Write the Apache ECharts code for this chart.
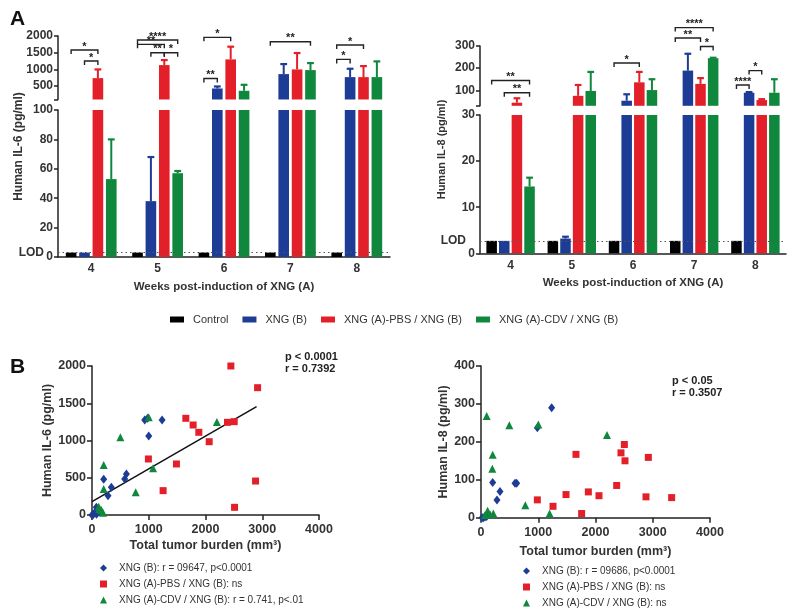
<!DOCTYPE html>
<html><head><meta charset="utf-8">
<script src="https://cdn.jsdelivr.net/npm/echarts@6/dist/echarts.min.js"></script>
<style>html,body{margin:0;padding:0;background:#fff}#c{width:800px;height:615px}</style>
</head><body><div id="c"></div>
<script>
// ---------- Panel A data ----------
const weeks = ['4', '5', '6', '7', '8'];
const groupNames = ['Control', 'XNG (B)', 'XNG (A)-PBS / XNG (B)', 'XNG (A)-CDV / XNG (B)'];

// IL-6 means and upper error (mean + SEM)
const il6Control = [3, 3, 3, 3, 3];
const il6XngB = [3, 38, 430, 860, 770];
const il6Pbs = [740, 1130, 1300, 1000, 770];
const il6Cdv = [53, 57, 360, 980, 770];
const il6ControlUp = [null, null, null, null, null];
const il6XngBUp = [null, 68, 490, 1160, 1020];
const il6PbsUp = [1000, 1280, 1680, 1490, 1100];
const il6CdvUp = [80, 58.5, 540, 1190, 1240];
const il6LOD = 3;

// IL-8 means and upper error
const il8Control = [2.7, 2.7, 2.7, 2.7, 2.7];
const il8XngB = [2.7, 3.2, 53, 189, 89];
const il8Pbs = [44, 75, 136, 129, 56];
const il8Cdv = [14.5, 97, 101, 245, 89];
const il8ControlUp = [null, null, null, null, null];
const il8XngBUp = [null, 3.6, 82, 265, 92];
const il8PbsUp = [64, 124, 183, 155, 60];
const il8CdvUp = [16.4, 183, 150, 247, 150];
const il8LOD = 2.7;

// significance brackets: [week index, from group, to group, height]
const il6Brackets = [[0,0,2,1580],[0,1,2,1250],[1,0,3,1880],[1,0,2,1750],[1,1,2,1500],[1,2,3,1500],[2,0,2,1960],[2,0,1,730],[3,0,3,1830],[4,0,2,1730],[4,0,1,1300]];
const il6BracketLabels = ['*','*','****','**','**','*','*','**','**','*','*'];
const il8Brackets = [[0,0,3,144],[0,1,3,89],[2,0,2,223],[3,0,3,383],[3,0,2,336],[3,2,3,298],[4,0,1,124],[4,1,2,189]];
const il8BracketLabels = ['**','**','*','****','**','*','****','*'];

// ---------- Panel B data ----------
const il6BlueX = [929, 1235, 1000, 980, 606, 576, 206, 341, 282, 76, 45, 80, 20, 0];
const il6BlueY = [1275, 1275, 1060, 1300, 550, 483, 479, 371, 259, 103, 30, 10, 5, 0];
const il6RedX = [2447, 2918, 1653, 1782, 1882, 2065, 2388, 2506, 994, 1488, 1253, 2882, 2512];
const il6RedY = [2000, 1709, 1298, 1208, 1110, 984, 1244, 1253, 752, 685, 327, 456, 103];
const il6GreenX = [500, 1000, 2200, 206, 1076, 770, 206, 118, 165, 194, 130];
const il6GreenY = [1043, 1311, 1248, 671, 626, 304, 349, 112, 67, 31, 80];
const il6FitX = [0, 2900];
const il6FitY = [179, 1455];

const il8BlueX = [1234, 984, 204, 594, 623, 332, 279, 40, 70, 100, 20];
const il8BlueY = [290, 237, 93, 91, 91, 69, 47, 0, 2, 3, 0];
const il8RedX = [2504, 2445, 2515, 2923, 1659, 2370, 1875, 2061, 1485, 984, 1258, 1758, 2882, 3330];
const il8RedY = [193, 171, 150, 159, 167, 85, 68, 58, 61, 47, 30, 11, 55, 53];
const il8GreenX = [99, 495, 1001, 2201, 204, 198, 774, 1199, 116, 215, 157, 70];
const il8GreenY = [268, 244, 246, 218, 166, 129, 33, 11, 18, 11, 9, 7];

const il6LegendNames = ['XNG (B): r = 09647, p<0.0001', 'XNG (A)-PBS / XNG (B): ns', 'XNG (A)-CDV / XNG (B): r = 0.741, p<.01'];
const il8LegendNames = ['XNG (B): r = 09686, p<0.0001', 'XNG (A)-PBS / XNG (B): ns', 'XNG (A)-CDV / XNG (B): ns'];

// ---------- styles ----------
const FONT = "'Liberation Sans', Arial, Helvetica, sans-serif";
const COLORS = ['#000000', '#1d3c96', '#e3202a', '#0f873c'];
const AX = '#222';
const TXT = '#333';
const plain = v => String(v);

const chart = echarts.init(document.getElementById('c'), null, {renderer: 'canvas'});

function zip(a, b) { return a.map((v, i) => [v, b[i]]); }

function catAxis(grid, shown, name) {
  return {
    type: 'category', gridIndex: grid, data: weeks, show: shown,
    axisLine: {lineStyle: {color: AX, width: 1.5}},
    axisTick: {alignWithLabel: true, length: 4, lineStyle: {color: AX, width: 1.5}},
    axisLabel: {color: TXT, fontWeight: 'bold', fontSize: 12, fontFamily: FONT, margin: 6},
    name: name || '', nameLocation: 'middle', nameGap: 24,
    nameTextStyle: {color: TXT, fontWeight: 'bold', fontSize: 11.5, fontFamily: FONT}
  };
}
function lbl(extra) {
  return Object.assign({color: TXT, fontWeight: 'bold', fontSize: 12, fontFamily: FONT, margin: 5, formatter: plain}, extra || {});
}
function valAxis(grid, min, max, extra) {
  return Object.assign({
    type: 'value', gridIndex: grid, min: min, max: max,
    splitLine: {show: false},
    axisLine: {show: true, lineStyle: {color: AX, width: 1.5}},
    axisTick: {show: true, length: 4, lineStyle: {color: AX, width: 1.5}},
    axisLabel: lbl()
  }, extra || {});
}
function nameAxis(grid, name, size) {
  return {
    type: 'value', gridIndex: grid, min: 0, max: 1,
    axisLine: {show: false}, axisTick: {show: false}, axisLabel: {show: false}, splitLine: {show: false},
    name: name, nameLocation: 'middle', nameGap: 33,
    nameTextStyle: {color: TXT, fontWeight: 'bold', fontSize: size, fontFamily: FONT}
  };
}

const grids = [
  {left: 58, top: 36, width: 332, height: 63.5},     // 0 IL-6 upper
  {left: 58, top: 110, width: 332, height: 147},     // 1 IL-6 lower
  {left: 58, top: 36, width: 332, height: 221},      // 2 IL-6 name holder
  {left: 480, top: 46, width: 306, height: 59.8},    // 3 IL-8 upper
  {left: 480, top: 115, width: 306, height: 138.3},  // 4 IL-8 lower
  {left: 480, top: 46, width: 306, height: 207},     // 5 IL-8 name holder
  {left: 92, top: 366, width: 227, height: 149},     // 6 B left
  {left: 481, top: 366, width: 229, height: 151.7}   // 7 B right
];

const xAxes = [
  catAxis(0, false), catAxis(1, true, 'Weeks post-induction of XNG (A)'), catAxis(2, false),
  catAxis(3, false), catAxis(4, true, 'Weeks post-induction of XNG (A)'), catAxis(5, false)
];
const scatterX = (grid, gap) => ({
  type: 'value', gridIndex: grid, min: 0, max: 4000, interval: 1000,
  splitLine: {show: false},
  axisLine: {lineStyle: {color: AX, width: 1.5}},
  axisTick: {length: 5, lineStyle: {color: AX, width: 1.5}},
  axisLabel: lbl({fontSize: 12.5, margin: 8}),
  name: 'Total tumor burden (mm³)', nameLocation: 'middle', nameGap: gap,
  nameTextStyle: {color: TXT, fontWeight: 'bold', fontSize: 12.5, fontFamily: FONT}
});
xAxes.push(scatterX(6, 24), scatterX(7, 27));

const scatterY = (grid, max, interval, name, gap) => ({
  type: 'value', gridIndex: grid, min: 0, max: max, interval: interval,
  splitLine: {show: false},
  axisLine: {show: true, lineStyle: {color: AX, width: 1.5}},
  axisTick: {show: true, length: 5, lineStyle: {color: AX, width: 1.5}},
  axisLabel: lbl({fontSize: 12.5, margin: 6}),
  name: name, nameLocation: 'middle', nameGap: gap,
  nameTextStyle: {color: TXT, fontWeight: 'bold', fontSize: 12.5, fontFamily: FONT}
});

const yAxes = [
  valAxis(0, 100, 2000, {axisLabel: lbl({customValues: [500, 1000, 1500, 2000]}),
                         axisTick: {show: true, length: 4, lineStyle: {color: AX, width: 1.5}, customValues: [100, 500, 1000, 1500, 2000]}}),
  valAxis(1, 0, 100, {interval: 20}),
  nameAxis(2, 'Human IL-6 (pg/ml)', 12),
  valAxis(3, 30, 300, {axisLabel: lbl({customValues: [100, 200, 300]}),
                       axisTick: {show: true, length: 4, lineStyle: {color: AX, width: 1.5}, customValues: [30, 100, 200, 300]}}),
  valAxis(4, 0, 30, {interval: 10}),
  nameAxis(5, 'Human IL-8 (pg/ml)', 11),
  scatterY(6, 2000, 500, 'Human IL-6 (pg/ml)', 36),
  scatterY(7, 400, 100, 'Human IL-8 (pg/ml)', 31)
];

const series = [];
const il6Means = [il6Control, il6XngB, il6Pbs, il6Cdv];
const il6Ups = [il6ControlUp, il6XngBUp, il6PbsUp, il6CdvUp];
const il8Means = [il8Control, il8XngB, il8Pbs, il8Cdv];
const il8Ups = [il8ControlUp, il8XngBUp, il8PbsUp, il8CdvUp];

const BW6 = 0.16, GAP6 = 0.26, BW8 = 0.172, GAP8 = 0.2;

function addBars(xi, yi, means, bw, gap, lod) {
  means.forEach((arr, g) => {
    const s = {
      type: 'bar', name: groupNames[g], xAxisIndex: xi, yAxisIndex: yi, data: arr,
      barWidth: (bw * 100) + '%', barGap: (gap * 100) + '%',
      itemStyle: {color: COLORS[g]}, emphasis: {disabled: true}, silent: true
    };
    if (lod != null && g === 0) {
      s.markLine = {
        silent: true, symbol: 'none', animation: false,
        lineStyle: {color: '#555', type: [1.5, 3], width: 1.2},
        label: {show: true, position: 'start', formatter: 'LOD', distance: 14,
                color: TXT, fontWeight: 'bold', fontSize: 12, fontFamily: FONT},
        data: [{yAxis: lod}]
      };
    }
    series.push(s);
  });
}
addBars(0, 0, il6Means, BW6, GAP6, null);
addBars(1, 1, il6Means, BW6, GAP6, il6LOD);
addBars(3, 3, il8Means, BW8, GAP8, null);
addBars(4, 4, il8Means, BW8, GAP8, il8LOD);

function errData(means, ups) {
  const out = [];
  means.forEach((arr, g) => arr.forEach((m, i) => { if (ups[g][i] != null) out.push([i, g, m, ups[g][i]]); }));
  return out;
}
function errSeries(xi, yi, data, ymin, ymax, bw, gap) {
  return {
    type: 'custom', xAxisIndex: xi, yAxisIndex: yi, data: data, silent: true,
    renderItem: function (params, api) {
      const cat = api.value(0), g = api.value(1), mean = api.value(2), up = api.value(3);
      const lo = Math.max(mean, ymin), hi = Math.min(up, ymax);
      if (hi <= lo) return null;
      const band = api.size([1, 0])[0];
      const w = band * bw;
      const x = api.coord([cat, ymin])[0] + (g - 1.5) * w * (1 + gap);
      const y1 = api.coord([cat, lo])[1], y2 = api.coord([cat, hi])[1];
      const col = COLORS[g];
      const children = [{type: 'line', shape: {x1: x, y1: y1, x2: x, y2: y2}, style: {stroke: col, lineWidth: 2}}];
      if (up <= ymax) children.push({type: 'line', shape: {x1: x - w * 0.32, y1: y2, x2: x + w * 0.32, y2: y2}, style: {stroke: col, lineWidth: 2.2}});
      return {type: 'group', children: children};
    }
  };
}
series.push(errSeries(0, 0, errData(il6Means, il6Ups), 100, 2000, BW6, GAP6));
series.push(errSeries(1, 1, errData(il6Means, il6Ups), 0, 100, BW6, GAP6));
series.push(errSeries(3, 3, errData(il8Means, il8Ups), 30, 300, BW8, GAP8));
series.push(errSeries(4, 4, errData(il8Means, il8Ups), 0, 30, BW8, GAP8));

function bracketSeries(xi, yi, data, labels, bw, gap) {
  return {
    type: 'custom', xAxisIndex: xi, yAxisIndex: yi, data: data, silent: true, clip: false,
    renderItem: function (params, api) {
      const cat = api.value(0), a = api.value(1), b = api.value(2), h = api.value(3);
      const band = api.size([1, 0])[0];
      const step = band * bw * (1 + gap);
      const p = api.coord([cat, h]);
      const x1 = p[0] + (a - 1.5) * step, x2 = p[0] + (b - 1.5) * step, y = p[1];
      return {type: 'group', children: [
        {type: 'polyline', shape: {points: [[x1, y + 4], [x1, y], [x2, y], [x2, y + 4]]},
         style: {stroke: '#222', lineWidth: 1.4, fill: null}},
        {type: 'text', style: {text: labels[params.dataIndex], x: (x1 + x2) / 2, y: y + 2,
          align: 'center', verticalAlign: 'bottom', fontSize: 11, fontWeight: 'bold', fontFamily: FONT, fill: '#222'}}
      ]};
    }
  };
}
series.push(bracketSeries(0, 0, il6Brackets, il6BracketLabels, BW6, GAP6));
series.push(bracketSeries(3, 3, il8Brackets, il8BracketLabels, BW8, GAP8));

// Panel B scatter
function sc(name, xi, xs, ys, g, symbol, size) {
  return {type: 'scatter', name: name, xAxisIndex: xi, yAxisIndex: xi, data: zip(xs, ys),
          symbol: symbol, symbolSize: size, itemStyle: {color: COLORS[g], opacity: 1}, silent: true};
}
series.push(sc(il6LegendNames[0], 6, il6BlueX, il6BlueY, 1, 'diamond', [7, 9]));
series.push(sc(il6LegendNames[1], 6, il6RedX, il6RedY, 2, 'rect', 7));
series.push(sc(il6LegendNames[2], 6, il6GreenX, il6GreenY, 3, 'triangle', 8));
series.push({type: 'line', xAxisIndex: 6, yAxisIndex: 6, data: zip(il6FitX, il6FitY), symbol: 'none',
             lineStyle: {color: '#111', width: 1.5}, silent: true, z: 1});
series.push(sc(il8LegendNames[0], 7, il8BlueX, il8BlueY, 1, 'diamond', [7, 9]));
series.push(sc(il8LegendNames[1], 7, il8RedX, il8RedY, 2, 'rect', 7));
series.push(sc(il8LegendNames[2], 7, il8GreenX, il8GreenY, 3, 'triangle', 8));

const legendText = {color: TXT, fontFamily: FONT};
const option = {
  animation: false,
  backgroundColor: '#fff',
  textStyle: {fontFamily: FONT},
  title: [
    {text: 'A', left: 5, top: 4, textStyle: {fontSize: 21, fontWeight: 'bold', color: '#111', fontFamily: FONT}},
    {text: 'B', left: 5, top: 352, textStyle: {fontSize: 21, fontWeight: 'bold', color: '#111', fontFamily: FONT}},
    {text: 'p < 0.0001\nr = 0.7392', left: 280, top: 346, textStyle: {fontSize: 11, fontWeight: 'bold', color: '#222', lineHeight: 12, fontFamily: FONT}},
    {text: 'p < 0.05\nr = 0.3507', left: 667, top: 370, textStyle: {fontSize: 11, fontWeight: 'bold', color: '#222', lineHeight: 12, fontFamily: FONT}}
  ],
  legend: [
    {data: groupNames, left: 165, top: 309, icon: 'rect', itemWidth: 14, itemHeight: 6, itemGap: 14,
     selectedMode: false, textStyle: Object.assign({fontSize: 11, padding: [0, 0, 0, 4]}, legendText)},
    {data: il6LegendNames, orient: 'vertical', left: 95, top: 558, itemWidth: 7, itemHeight: 7, itemGap: 6,
     selectedMode: false, textStyle: Object.assign({fontSize: 10, padding: [0, 0, 0, 7]}, legendText)},
    {data: il8LegendNames, orient: 'vertical', left: 518, top: 561, itemWidth: 7, itemHeight: 7, itemGap: 6,
     selectedMode: false, textStyle: Object.assign({fontSize: 10, padding: [0, 0, 0, 7]}, legendText)}
  ],
  grid: grids,
  xAxis: xAxes,
  yAxis: yAxes,
  series: series
};
chart.setOption(option);
</script></body></html>
